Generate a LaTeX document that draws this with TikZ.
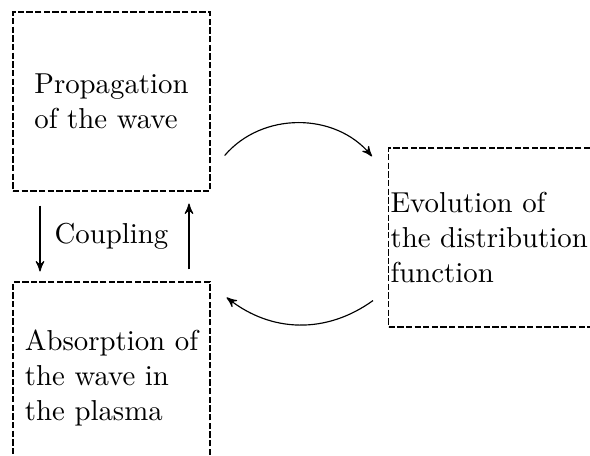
\documentclass[tikz,border=0pt]{standalone}
\usetikzlibrary{arrows,positioning,calc}

\tikzset{
  stage/.style={draw, dash pattern=on 2.2pt off 0.8pt, minimum width=68.4pt,
    minimum height=62.1pt, align=left, inner sep=0pt},
}

\begin{document}
\begin{tikzpicture}[x=0.347pt,y=0.347pt,>=stealth']
\clip (0,0) rectangle (590,-456);
\node[stage] (prop) at (111.5,-101.5) {Propagation\\of the wave};
\node[stage, minimum height=66.6pt] (absorb) at (111.5,-378) {Absorption of\\the wave in\\the plasma};
\node[stage, anchor=west, minimum width=83.3pt, text width=82pt, inner xsep=0.7pt]
  (evol) at (388,-237.5) {Evolution of\\the distribution\\function};
\node (coupling) at ($(prop.south)!0.5!(absorb.north)$) {Coupling};
% wave <-> plasma
\draw[->] ([shift={(-71.5,-14)}]prop.south) -- ([shift={(-71.5,10)}]absorb.north);
\draw[->] ([shift={(77.5,12)}]absorb.north) -- ([shift={(77.5,-12)}]prop.south);
% loop with the distribution function
\draw[->] ([shift={(14,36)}]prop.south east) to[bend left=50] ([shift={(-16,-9)}]evol.north west);
\draw[->] ([shift={(-15,27)}]evol.south west) to[bend left=37] ([shift={(16,-16)}]absorb.north east);
\end{tikzpicture}
\end{document}
